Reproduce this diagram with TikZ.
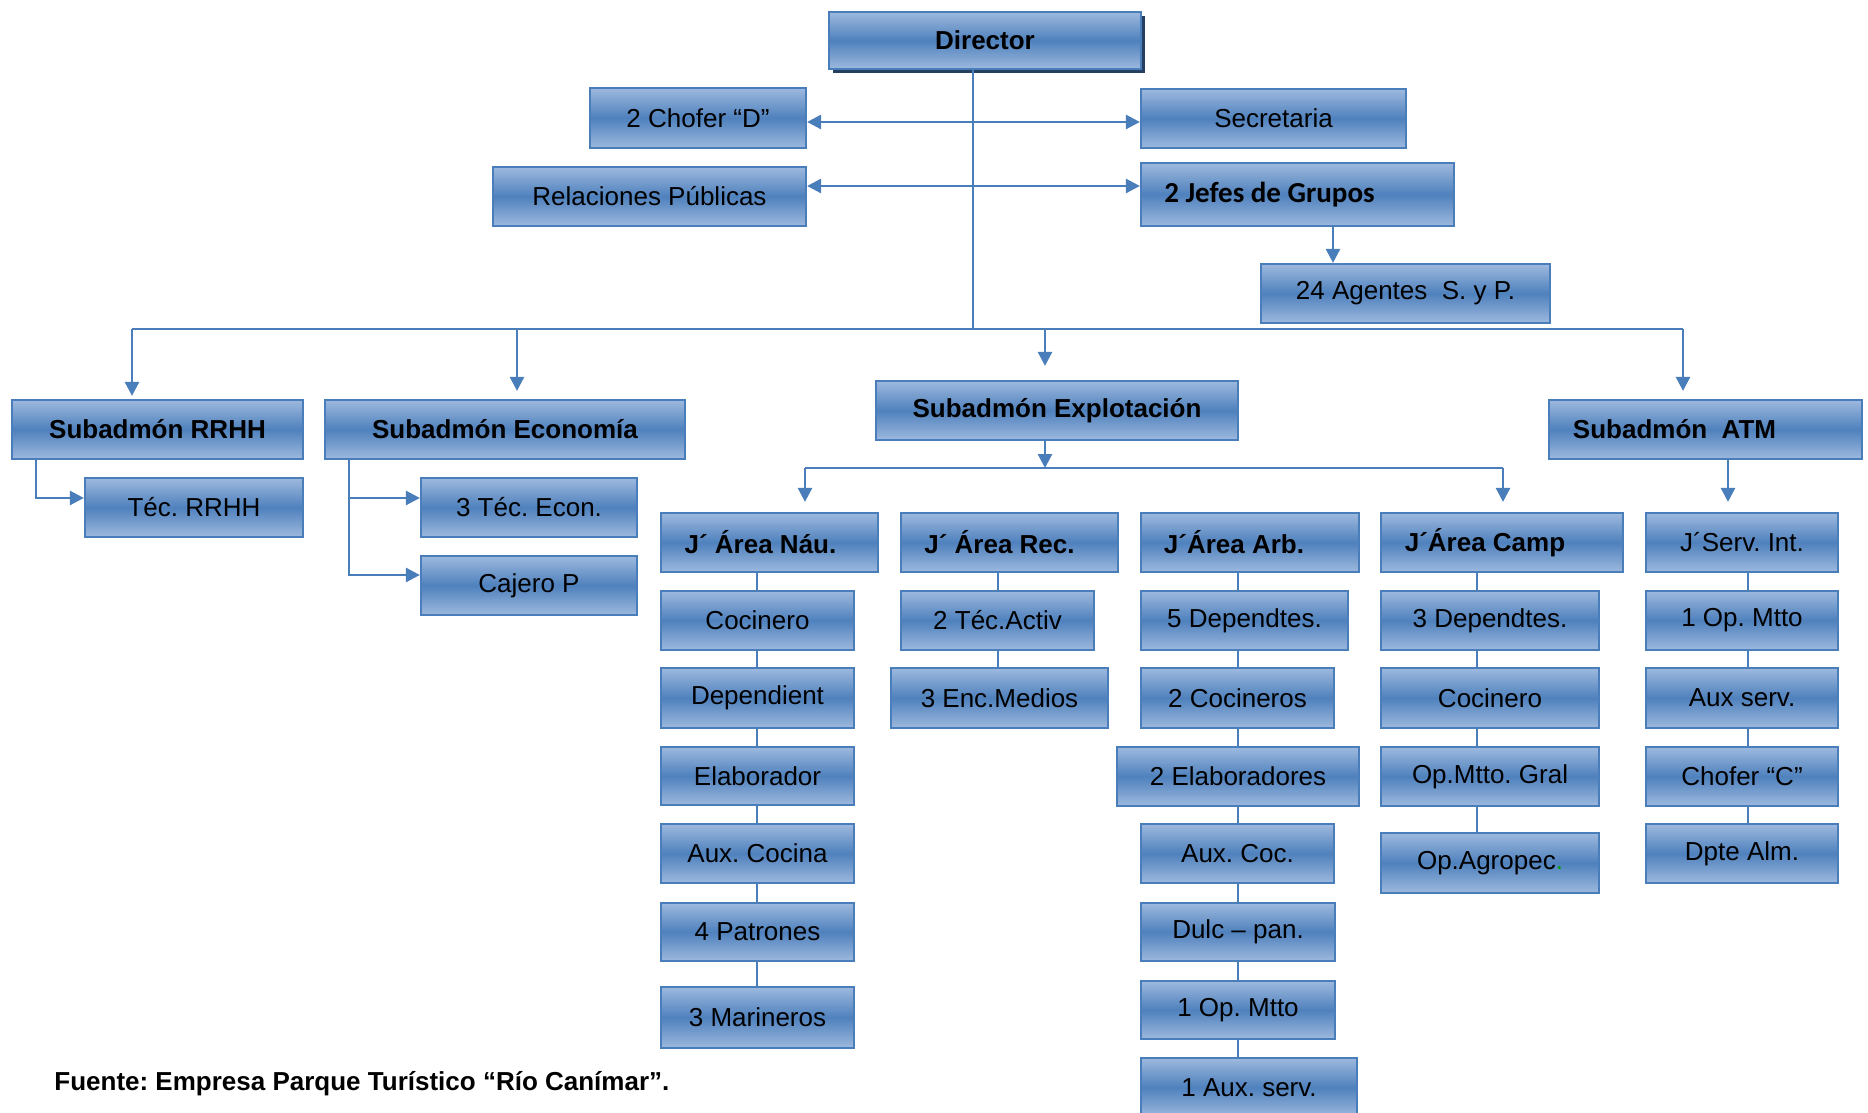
\documentclass[tikz,border=0pt]{standalone}
\usepackage{fontspec}
\setmainfont{Liberation Sans}
\newfontfamily\calibfont{Carlito}
\usetikzlibrary{arrows.meta,shadows,calc}
\definecolor{boxlight}{HTML}{9DB9DE}
\definecolor{boxmid}{HTML}{4F81BD}
\definecolor{boxline}{HTML}{4A7EBB}
\definecolor{lnk}{HTML}{4A7EBB}
\definecolor{shad}{HTML}{243F60}
\definecolor{dotgreen}{HTML}{00A000}
\frenchspacing
\newcommand\orgbox[8][]{%
  \pgfmathsetmacro\obW{(#5-#3)*0.5}%
  \pgfmathsetmacro\obH{(#6-#4)*0.5}%
  \pgfmathsetmacro\obX{(#3+#5)/2}%
  \pgfmathsetmacro\obY{(#4+#6)/2}%
  \node[obox,#1,minimum width=\obW pt,minimum height=\obH pt] (#2) at (\obX,\obY) {};%
  \node[otext] (#2-t) at ([xshift=#8*0.5pt]#2.center) {#7};%
}
\begin{document}
\begin{tikzpicture}[x=0.5pt,y=-0.5pt,
  obox/.style={draw=boxline,line width=1.1pt,top color=boxlight,bottom color=boxlight,middle color=boxmid,inner sep=0pt},
  otext/.style={inner sep=0pt,font=\fontsize{13}{15}\selectfont,text=black},
  conn/.style={draw=lnk,line width=1.3pt},
  arr/.style={conn,-{Triangle[length=7pt,width=7pt]}},
  darr/.style={conn,{Triangle[length=7pt,width=7pt]}-{Triangle[length=7pt,width=7pt]}},
  dshadow/.style={drop shadow={shadow xshift=2pt,shadow yshift=-2pt,fill=shad,opacity=1}}]
\useasboundingbox (0,0) rectangle (1868,1113);

% top
\orgbox[dshadow]{dir}{829}{12}{1141}{69}{\bfseries Director}{0}
\orgbox{chof}{590}{88}{806}{148}{2 Chofer “D”}{0}
\orgbox{sec}{1141}{89}{1406}{148}{Secretaria}{0}
\orgbox{rel}{493}{167}{806}{226}{Relaciones Públicas}{0}
\orgbox{jef}{1141}{163}{1454}{226}{\calibfont\bfseries\fontsize{14.5}{17}\selectfont 2 Jefes de Grupos}{-28}
\orgbox{age}{1261}{264}{1550}{323}{24 Agentes\ \ S. y P.}{0}

% level 2
\orgbox{rrhh}{12}{400}{303}{459}{\bfseries Subadmón RRHH}{0}
\orgbox{eco}{325}{400}{685}{459}{\bfseries Subadmón Economía}{0}
\orgbox{exp}{876}{381}{1238}{440}{\bfseries Subadmón Explotación}{0}
\orgbox{atm}{1549}{400}{1862}{459}{\bfseries Subadmón\ \ ATM}{-31}
\orgbox{tecr}{85}{478}{303}{537}{Téc. RRHH}{0}
\orgbox{tece}{421}{478}{637}{537}{3 Téc. Econ.}{0}
\orgbox{caj}{421}{556}{637}{615}{Cajero P}{0}

% Nautica
\orgbox{nau}{661}{513}{878}{572}{\bfseries J´ Área Náu.}{-9}
\orgbox{n1}{661}{591}{854}{650}{Cocinero}{0}
\orgbox{n2}{661}{668}{854}{728}{Dependient}{0}
\orgbox{n3}{661}{747}{854}{805}{Elaborador}{0}
\orgbox{n4}{661}{824}{854}{883}{Aux. Cocina}{0}
\orgbox{n5}{661}{903}{854}{961}{4 Patrones}{0}
\orgbox{n6}{661}{987}{854}{1048}{3 Marineros}{0}

% Recreacion
\orgbox{rec}{901}{513}{1118}{572}{\bfseries J´ Área Rec.}{-10}
\orgbox{r1}{901}{591}{1094}{650}{2 Téc.Activ}{0}
\orgbox{r2}{891}{668}{1108}{728}{3 Enc.Medios}{0}

% Arb
\orgbox{arb}{1141}{513}{1359}{572}{\bfseries J´Área Arb.}{-16}
\orgbox{a1}{1141}{591}{1348}{650}{5 Dependtes.}{0}
\orgbox{a2}{1141}{668}{1334}{728}{2 Cocineros}{0}
\orgbox{a3}{1117}{747}{1359}{806}{2 Elaboradores}{0}
\orgbox{a4}{1141}{824}{1334}{883}{Aux. Coc.}{0}
\orgbox{a5}{1141}{903}{1335}{961}{Dulc – pan.}{0}
\orgbox{a6}{1141}{981}{1335}{1039}{1 Op. Mtto}{0}
\orgbox{a7}{1141}{1058}{1357}{1117}{1 Aux. serv.}{0}

% Camp
\orgbox{camp}{1381}{513}{1623}{572}{\bfseries J´Área Camp}{-17}
\orgbox{p1}{1381}{591}{1599}{650}{3 Dependtes.}{0}
\orgbox{p2}{1381}{668}{1599}{728}{Cocinero}{0}
\orgbox{p3}{1381}{747}{1599}{806}{Op.Mtto. Gral}{0}
\orgbox{p4}{1381}{833}{1599}{893}{Op.Agropec\textcolor{dotgreen}{.}}{0}

% Serv
\orgbox{serv}{1646}{513}{1838}{572}{J´Serv. Int.}{0}
\orgbox{s1}{1646}{591}{1838}{650}{1 Op. Mtto}{0}
\orgbox{s2}{1646}{668}{1838}{728}{Aux serv.}{0}
\orgbox{s3}{1646}{747}{1838}{806}{Chofer “C”}{0}
\orgbox{s4}{1646}{824}{1838}{883}{Dpte Alm.}{0}

% footer
\node[inner sep=0pt,anchor=west,font=\bfseries\fontsize{13}{15}\selectfont] (src) at (54,1084) {Fuente: Empresa Parque Turístico “Río Canímar”.};

% top connectors
\coordinate (busL) at (132,329);
\coordinate (busR) at (1683,329);
\coordinate (bEco) at (517,329);
\coordinate (bExp) at (1045,329);
\draw[conn] ([xshift=-6pt]dir.south) -- ([xshift=-6pt]dir.south |- busL);
\draw[darr] ([yshift=-2pt]chof.east) -- ([yshift=-2pt]chof.east -| sec.west);
\draw[darr] ([yshift=5.25pt]rel.east) -- ([yshift=5.25pt]rel.east -| jef.west);
\draw[arr] ([xshift=17.75pt]jef.south) -- ([xshift=17.75pt]jef.south |- age.north);
\draw[conn] (busL) -- (busR);
\draw[arr,shorten >=1.5pt] (busL) -- (busL |- rrhh.north);
\draw[arr,shorten >=4pt] (bEco) -- (bEco |- eco.north);
\draw[arr,shorten >=7pt] (bExp) -- (bExp |- exp.north);
\draw[arr,shorten >=4pt] (busR) -- (busR |- atm.north);

% level 2 connectors
\draw[arr] ([xshift=12.5pt]rrhh.south west) |- ([yshift=4.75pt]tecr.west);
\draw[arr] ([xshift=12.5pt]eco.south west) |- ([yshift=4.75pt]tece.west);
\draw[arr] ([xshift=12.5pt]eco.south west) |- ([yshift=5.25pt]caj.west);

\coordinate (b2L) at (805,468);
\coordinate (b2R) at (1503,468);
\draw[arr] ([xshift=-6pt]exp.south) -- ([xshift=-6pt]exp.south |- b2L);
\draw[conn] (b2L) -- (b2R);
\draw[arr,shorten >=5pt] (b2L) -- (b2L |- nau.north);
\draw[arr,shorten >=5pt] (b2R) -- (b2R |- camp.north);
\draw[arr,shorten >=5pt] ([xshift=11.25pt]atm.south) -- ([xshift=11.25pt]atm.south |- serv.north);

% column chains
\coordinate (colN) at (757,0);
\coordinate (colR) at (998,0);
\coordinate (colA) at (1238,0);
\coordinate (colP) at (1477,0);
\coordinate (colS) at (1748,0);
\foreach \u/\v in {nau/n1,n1/n2,n2/n3,n3/n4,n4/n5,n5/n6}
  \draw[conn] (\u.south -| colN) -- (\v.north -| colN);
\foreach \u/\v in {rec/r1,r1/r2}
  \draw[conn] (\u.south -| colR) -- (\v.north -| colR);
\foreach \u/\v in {arb/a1,a1/a2,a2/a3,a3/a4,a4/a5,a5/a6,a6/a7}
  \draw[conn] (\u.south -| colA) -- (\v.north -| colA);
\foreach \u/\v in {camp/p1,p1/p2,p2/p3,p3/p4}
  \draw[conn] (\u.south -| colP) -- (\v.north -| colP);
\foreach \u/\v in {serv/s1,s1/s2,s2/s3,s3/s4}
  \draw[conn] (\u.south -| colS) -- (\v.north -| colS);
\end{tikzpicture}
\end{document}
